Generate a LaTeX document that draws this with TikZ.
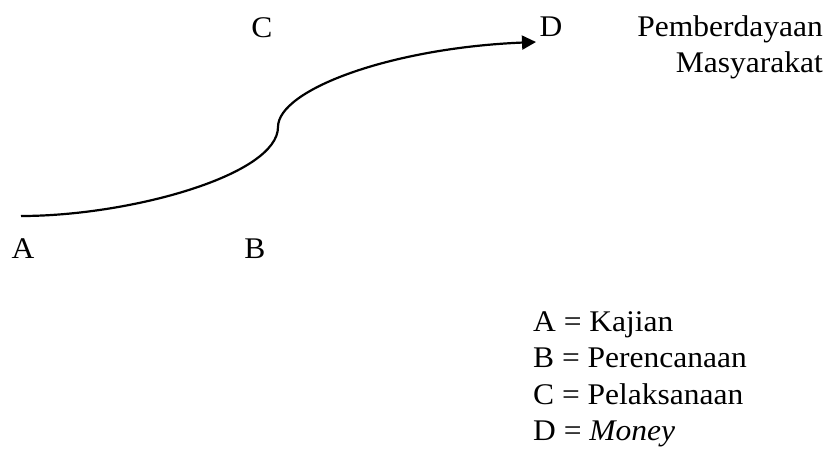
\documentclass[tikz,border=0pt]{standalone}
\usepackage{fontspec}
\setmainfont{Liberation Serif}[FakeStretch=1.05]
\usetikzlibrary{arrows.meta}
\begin{document}
\begin{tikzpicture}[x=1pt,y=-1pt,
  lbl/.style={inner sep=0pt,font=\fontsize{30}{36}\selectfont},
  flow/.style={line width=2.2pt,-{Triangle[length=14pt,width=14pt]}}]
\useasboundingbox (0,0) rectangle (833,448);
% labels
\node[lbl,anchor=base] (C) at (262,37) {C};
\node[lbl,anchor=base west] (D) at (539.5,36) {D};
\node[lbl,anchor=base east] (P1) at (823,36) {Pemberdayaan};
\node[lbl,anchor=base east] (P2) at (823,72.5) {Masyarakat};
\node[lbl,anchor=base] (A) at (23,258) {A};
\node[lbl,anchor=base] (B) at (255,258) {B};
% legend
\node[lbl,anchor=base west] (L1) at (533,331) {A = Kajian};
\node[lbl,anchor=base west] (L2) at (533,367.5) {B = Perencanaan};
\node[lbl,anchor=base west] (L3) at (533,404) {C = Pelaksanaan};
\node[lbl,anchor=base west] (L4) at (533,440.5) {D = \textit{Money}};
% curve
\coordinate (s) at (21,216);
\coordinate (m) at (278,127);
\coordinate (e) at (536,42);
\draw[flow] (s) .. controls (130,216) and (278,175) .. (m)
  .. controls (278,90) and (390,48) .. (e);
\end{tikzpicture}
\end{document}
